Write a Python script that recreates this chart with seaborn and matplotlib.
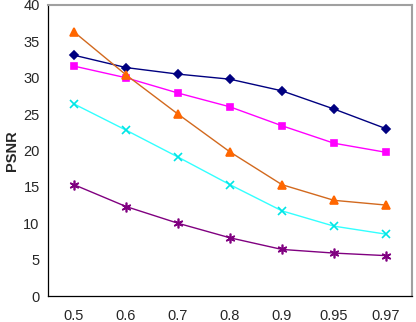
import numpy as np
import pandas as pd
import matplotlib
matplotlib.use("Agg")
import matplotlib.pyplot as plt
import seaborn as sns

categories = ["0.5", "0.6", "0.7", "0.8", "0.9", "0.95", "0.97"]
s_navy = [33.1, 31.4, 30.5, 29.8, 28.2, 25.7, 23.0]
s_magenta = [31.6, 30.0, 27.9, 26.0, 23.4, 21.0, 19.75]
s_orange = [36.3, 30.4, 25.0, 19.8, 15.3, 13.15, 12.5]
s_cyan = [26.4, 22.8, 19.1, 15.3, 11.7, 9.6, 8.5]
s_purple = [15.3, 12.3, 10.0, 8.0, 6.4, 5.9, 5.55]
yticks = [0, 5, 10, 15, 20, 25, 30, 35, 40]

sns.set_style("white")
plt.rcParams['font.family'] = ['Liberation Sans', 'DejaVu Sans']

fig = plt.figure(figsize=(4.16, 3.22), dpi=100)
ax = fig.add_axes([48/416, 26/322, (412-48)/416, (296-5)/322])

series = [
    ("s1", s_navy, "#000080", "#000080", "D", 4.5),
    ("s2", s_magenta, "#FF00FF", "#FF00FF", "s", 4.5),
    ("s3", s_orange, "#D2691E", "#FF6600", "^", 5.5),
    ("s4", s_cyan, "#33FFFF", "#00E5E5", "x", 6),
    ("s5", s_purple, "#800080", "#800080", (6, 2, 0), 7),
]
x = np.arange(len(categories))
for name, vals, lc, mc, mk, ms in series:
    df = pd.DataFrame({"x": x, "y": vals})
    sns.lineplot(data=df, x="x", y="y", ax=ax, color=lc, linewidth=1.0,
                 marker=mk, markersize=ms, markerfacecolor=mc,
                 markeredgecolor=mc, markeredgewidth=1.2)

ax.set_xlim(-0.5, len(categories) - 0.5)
ax.set_ylim(0, 40)
ax.set_yticks(yticks)
ax.set_yticklabels([str(t) for t in yticks], fontsize=10.5)
ax.set_xticks(x)
ax.set_xticklabels(categories, fontsize=10.5)
ax.set_xticks(np.arange(-0.5, len(categories)), minor=True)
ax.tick_params(axis='x', which='major', length=0, pad=9)
ax.tick_params(axis='x', which='minor', length=4, width=0.8, color='black', direction='out')
ax.tick_params(axis='y', which='major', length=4, width=0.8, color='black', direction='out', pad=2)
ax.set_xlabel("")
ax.set_ylabel("PSNR", fontsize=10.5, fontweight='bold', labelpad=3)

for side in ['left', 'bottom']:
    ax.spines[side].set_color('black')
    ax.spines[side].set_linewidth(0.9)
for side in ['top', 'right']:
    ax.spines[side].set_color('#A0A0A0')
    ax.spines[side].set_linewidth(1.5)
ax.grid(False)

fig.savefig("out.png", dpi=100)
